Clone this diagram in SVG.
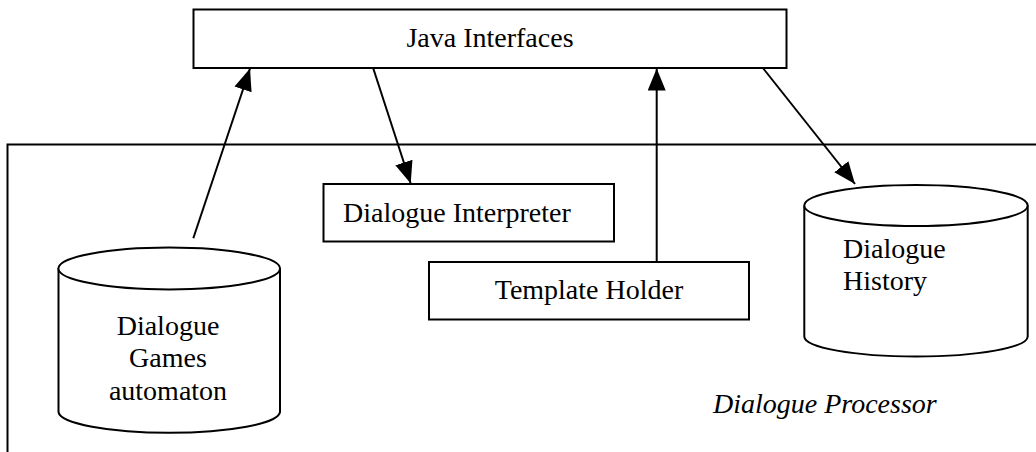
<svg xmlns="http://www.w3.org/2000/svg" width="1036" height="452" viewBox="0 0 1036 452">
<style>
.box{fill:#fff;stroke:#000;stroke-width:2}
.cyl{fill:#fff;stroke:#000;stroke-width:2}
.t{font-family:"Liberation Serif","Times New Roman",serif;font-size:28px;fill:#000}
.c{text-anchor:middle}
.ln{stroke:#000;stroke-width:2;fill:none}
</style>
<defs>
<marker id="ah" viewBox="0 0 22 18" refX="22" refY="9" markerWidth="22" markerHeight="18" markerUnits="userSpaceOnUse" orient="auto">
<path d="M0,0 L22,9 L0,18 Z" fill="#000"/>
</marker>
</defs>
<g id="processor">
<path class="ln" d="M7.5,452 V144.5 H1036"/>
<text class="t" x="713" y="412.5" font-style="italic">Dialogue Processor</text>
</g>
<g id="java">
<rect class="box" x="193.5" y="9.5" width="593" height="58.5"/>
<text class="t c" x="490" y="46.5">Java Interfaces</text>
</g>
<g id="interpreter">
<rect class="box" x="323.5" y="184" width="290.5" height="57.5"/>
<text class="t" x="343" y="221.5">Dialogue Interpreter</text>
</g>
<g id="template">
<rect class="box" x="429" y="262" width="320" height="57.5"/>
<text class="t c" x="589" y="299">Template Holder</text>
</g>
<g id="games">
<path class="cyl" d="M58.5,268 V412 A110.8,21.5 0 0 0 280,412 V268"/>
<ellipse class="cyl" cx="169.2" cy="268.5" rx="110.8" ry="21"/>
<text class="t c" x="168" y="335">Dialogue</text>
<text class="t c" x="168" y="367">Games</text>
<text class="t c" x="168" y="400">automaton</text>
</g>
<g id="history">
<path class="cyl" d="M804.3,205.5 V336.5 A111.7,20 0 0 0 1027.7,336.5 V205.5"/>
<ellipse class="cyl" cx="916" cy="205.5" rx="111.7" ry="20.5"/>
<text class="t" x="843" y="258">Dialogue</text>
<text class="t" x="843" y="290">History</text>
</g>
<g id="connectors">
<line class="ln" x1="193.3" y1="238.3" x2="250" y2="68.5" marker-end="url(#ah)"/>
<line class="ln" x1="373.3" y1="68.5" x2="410.7" y2="183.5" marker-end="url(#ah)"/>
<line class="ln" x1="656.7" y1="262" x2="656.7" y2="68.5" marker-end="url(#ah)"/>
<line class="ln" x1="763.3" y1="68.5" x2="855" y2="184" marker-end="url(#ah)"/>
</g>
</svg>
